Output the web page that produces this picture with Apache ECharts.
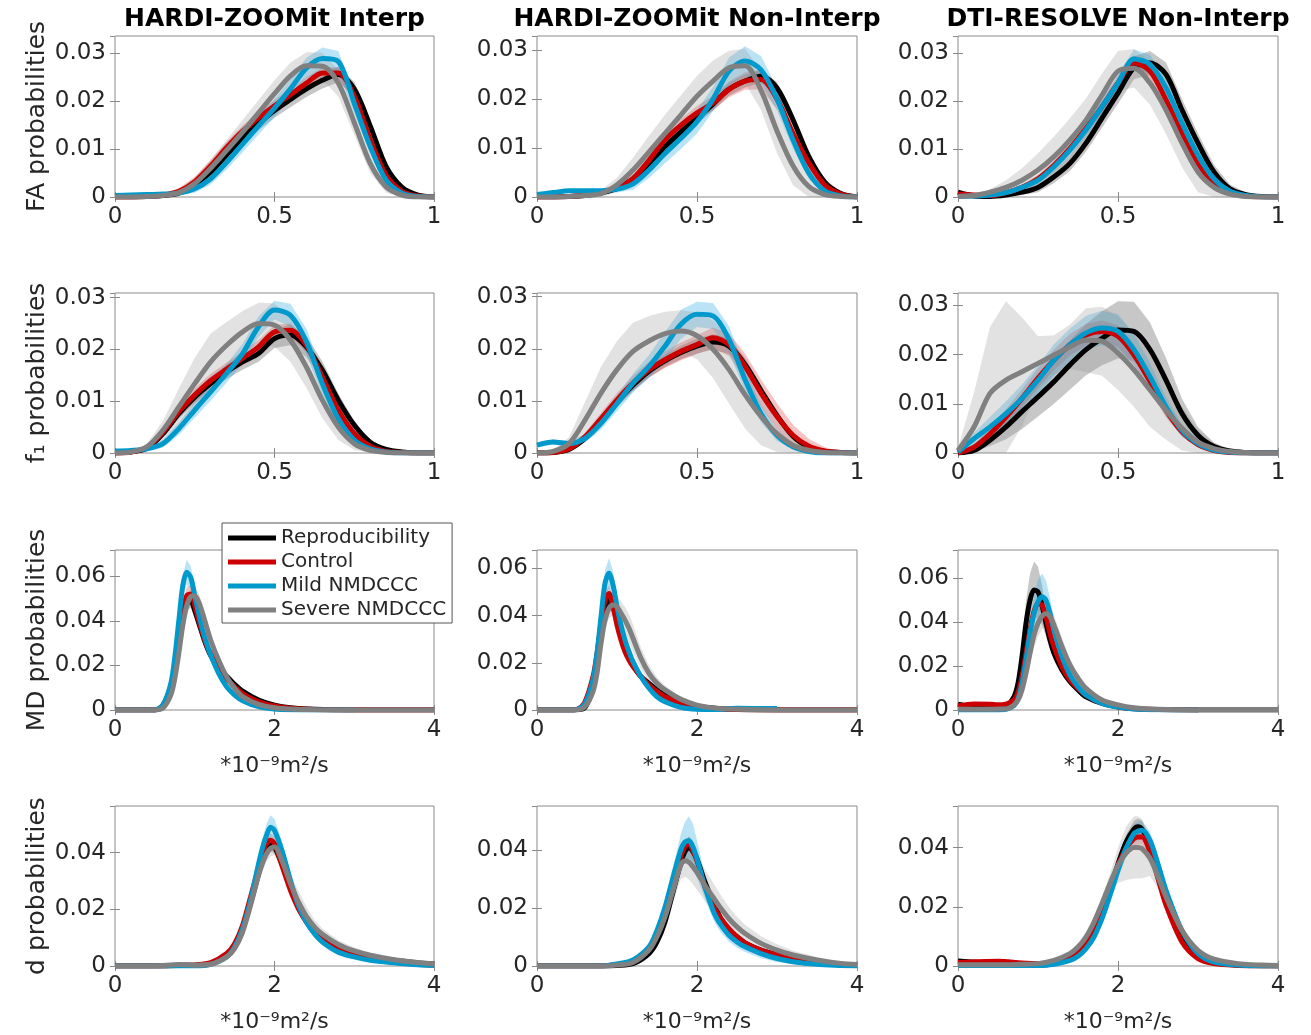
<!DOCTYPE html>
<html><head><meta charset="utf-8">
<script src="https://cdn.jsdelivr.net/npm/echarts@6/dist/echarts.min.js"></script>
<style>html,body{margin:0;padding:0;background:#fff}#chart{width:1311px;height:1035px}</style>
</head><body><div id="chart"></div>
<script>
// ---------- labels ----------
const colTitles = ['HARDI-ZOOMit Interp', 'HARDI-ZOOMit Non-Interp', 'DTI-RESOLVE Non-Interp'];
const rowLabels = ['FA probabilities', 'f\u2081 probabilities', 'MD probabilities', 'd probabilities'];
const groupNames = ['Reproducibility', 'Control', 'Mild NMDCCC', 'Severe NMDCCC'];
const xUnit = '*10\u207B\u2079m\u00B2/s';

// ---------- axis limits / ticks ----------
const xMaxRow = [1, 1, 4, 4];
const xIntRow = [0.5, 0.5, 2, 2];
const yIntRow = [0.01, 0.01, 0.02, 0.02];
const yMax = [[0.0335, 0.0329, 0.0335], [0.0309, 0.0307, 0.0325], [0.0718, 0.0678, 0.0726], [0.0565, 0.0552, 0.0541]];

// ---------- x samples ----------
const xFrac = [0,0.05,0.1,0.15,0.2,0.25,0.3,0.35,0.4,0.45,0.5,0.55,0.6,0.65,0.7,0.75,0.8,0.85,0.9,0.95,1];
const xMD = [0,0.2,0.4,0.5,0.6,0.7,0.75,0.8,0.85,0.9,0.95,1.0,1.05,1.1,1.15,1.2,1.3,1.4,1.5,1.6,1.8,2.0,2.2,2.5,3.0,3.5,4.0];
const xD = [0,0.5,0.8,1.0,1.2,1.4,1.5,1.6,1.7,1.8,1.85,1.9,1.95,2.0,2.1,2.2,2.25,2.3,2.4,2.5,2.6,2.8,3.0,3.2,3.5,3.8,4.0];

// ---------- FA, HARDI-ZOOMit Interp ----------
const faHI_R = [0,0,0.0001,0.0003,0.0008,0.0025,0.0052,0.0088,0.0123,0.0153,0.018,0.0203,0.0225,0.0243,0.0255,0.0225,0.0148,0.0063,0.002,0.0004,0];
const faHI_C = [0,0,0.0001,0.0004,0.0012,0.0032,0.0065,0.0103,0.0137,0.0165,0.019,0.0213,0.0237,0.0258,0.0258,0.021,0.012,0.0045,0.0012,0.0002,0];
const faHI_M = [0.0003,0.0004,0.0005,0.0006,0.0008,0.0017,0.0038,0.0072,0.011,0.0148,0.0185,0.0225,0.0268,0.0288,0.0282,0.0195,0.0105,0.0035,0.0008,0.0001,0];
const faHI_S = [0,0,0.0001,0.0003,0.0009,0.0028,0.006,0.0097,0.0135,0.0175,0.0215,0.0252,0.0273,0.0272,0.0237,0.0155,0.007,0.0021,0.0004,0,0];
const faHI_Rsd = [0,0,0,0.0002,0.0004,0.0008,0.001,0.0012,0.0013,0.0014,0.0015,0.0016,0.0017,0.0017,0.0016,0.0015,0.0012,0.0007,0.0003,0.0001,0];
const faHI_Csd = [0,0,0,0.0003,0.0006,0.001,0.0012,0.0012,0.0012,0.0012,0.0012,0.0012,0.0012,0.0012,0.0012,0.0011,0.0009,0.0006,0.0003,0.0001,0];
const faHI_Msd = [0,0,0,0.0002,0.0004,0.0008,0.0012,0.0015,0.0017,0.0018,0.0019,0.002,0.0022,0.0023,0.0022,0.002,0.0015,0.0009,0.0004,0.0001,0];
const faHI_Ssd = [0,0,0,0.0002,0.0006,0.0012,0.0018,0.0022,0.0025,0.0027,0.0028,0.0028,0.0028,0.0028,0.0028,0.0026,0.002,0.0012,0.0005,0.0001,0];

// ---------- FA, HARDI-ZOOMit Non-Interp ----------
const faHN_R = [0,0,0.0001,0.0003,0.0008,0.0017,0.003,0.0065,0.0103,0.0133,0.0161,0.019,0.022,0.0237,0.0247,0.0223,0.0158,0.0082,0.003,0.0007,0];
const faHN_C = [0,0,0.0001,0.0004,0.001,0.002,0.0038,0.0075,0.0117,0.0147,0.0172,0.0192,0.022,0.0237,0.024,0.02,0.013,0.0069,0.0024,0.0006,0];
const faHN_M = [0.0005,0.0009,0.0013,0.0013,0.0013,0.0016,0.0027,0.0055,0.0089,0.012,0.0154,0.02,0.0257,0.0278,0.026,0.02,0.0117,0.0048,0.0012,0.0002,0];
const faHN_S = [0,0,0.0001,0.0003,0.0007,0.0025,0.0055,0.0092,0.013,0.0168,0.0206,0.0237,0.0264,0.0268,0.0218,0.0135,0.0064,0.0021,0.0005,0.0001,0];
const faHN_Rsd = [0,0,0,0.0002,0.0003,0.0005,0.0007,0.0009,0.001,0.0011,0.0012,0.0013,0.0013,0.0013,0.0013,0.0012,0.001,0.0007,0.0004,0.0001,0];
const faHN_Csd = [0,0,0,0.0002,0.0004,0.0006,0.0009,0.0011,0.0012,0.0013,0.0014,0.0015,0.0016,0.0018,0.002,0.002,0.002,0.0018,0.0012,0.0005,0.0001];
const faHN_Msd = [0.0002,0.0003,0.0003,0.0003,0.0004,0.0007,0.0012,0.0016,0.002,0.0022,0.0024,0.0025,0.0028,0.003,0.0028,0.0024,0.0018,0.0011,0.0005,0.0001,0];
const faHN_Ssd = [0,0,0,0.0003,0.0007,0.0015,0.0025,0.0033,0.0038,0.004,0.0042,0.0042,0.0035,0.0035,0.004,0.0045,0.004,0.0025,0.0012,0.0004,0];

// ---------- FA, DTI-RESOLVE Non-Interp ----------
const faDN_R = [0.001,0.0002,0.0001,0.0004,0.001,0.002,0.0042,0.007,0.0112,0.0164,0.0216,0.0269,0.0279,0.0255,0.0181,0.0112,0.0052,0.0017,0.0005,0.0001,0];
const faDN_C = [0.0006,0.0004,0.0003,0.0009,0.002,0.0038,0.0066,0.0101,0.0143,0.0188,0.0237,0.0279,0.0262,0.0202,0.0133,0.007,0.0028,0.0009,0.0002,0,0];
const faDN_M = [0.0001,0.0002,0.0004,0.0009,0.002,0.0035,0.0063,0.0098,0.014,0.0188,0.0237,0.0287,0.0276,0.0227,0.0154,0.0087,0.0038,0.0012,0.0003,0,0];
const faDN_S = [0.0001,0.0003,0.001,0.002,0.0035,0.0056,0.0084,0.0119,0.016,0.0212,0.0262,0.0268,0.0237,0.0181,0.0112,0.0052,0.002,0.0006,0.0001,0,0];
const faDN_Rsd = [0.0003,0.0001,0.0001,0.0003,0.0006,0.001,0.0013,0.0016,0.0018,0.002,0.0022,0.0024,0.0025,0.0025,0.0023,0.002,0.0015,0.0009,0.0004,0.0001,0];
const faDN_Csd = [0.0002,0.0002,0.0002,0.0004,0.0006,0.0008,0.001,0.0012,0.0013,0.0014,0.0015,0.0016,0.0016,0.0015,0.0013,0.0011,0.0008,0.0005,0.0002,0,0];
const faDN_Msd = [0.0001,0.0001,0.0002,0.0004,0.0006,0.0008,0.001,0.0012,0.0014,0.0016,0.0018,0.002,0.002,0.0018,0.0015,0.0012,0.0008,0.0005,0.0002,0,0];
const faDN_Ssd = [0.0001,0.0002,0.0006,0.0015,0.0025,0.0035,0.0042,0.0045,0.0045,0.0045,0.0042,0.004,0.0045,0.005,0.005,0.0042,0.003,0.0015,0.0006,0.0001,0];

// ---------- f1, HARDI-ZOOMit Interp ----------
const f1HI_R = [0,0.0002,0.0009,0.0037,0.0076,0.0108,0.0134,0.0157,0.0176,0.0192,0.0221,0.0228,0.0205,0.016,0.0102,0.0054,0.0021,0.0007,0.0002,0,0];
const f1HI_C = [0,0.0002,0.0011,0.004,0.008,0.0112,0.014,0.0162,0.0183,0.0205,0.0234,0.0237,0.0208,0.0147,0.0083,0.0038,0.0013,0.0003,0.0001,0,0];
const f1HI_M = [0.0004,0.0005,0.0008,0.0018,0.0047,0.0083,0.0118,0.0154,0.0192,0.0244,0.0276,0.0266,0.0215,0.0134,0.0066,0.0025,0.0008,0.0002,0,0,0];
const f1HI_S = [0,0.0002,0.0012,0.0044,0.0089,0.0134,0.0176,0.0208,0.0234,0.025,0.0247,0.0218,0.0166,0.0102,0.005,0.0018,0.0005,0.0001,0,0,0];
const f1HI_Rsd = [0,0.0001,0.0003,0.0007,0.001,0.0012,0.0013,0.0014,0.0015,0.0016,0.0018,0.002,0.002,0.0017,0.0013,0.0008,0.0004,0.0002,0.0001,0,0];
const f1HI_Csd = [0,0.0001,0.0004,0.0009,0.0012,0.0013,0.0013,0.0013,0.0013,0.0013,0.0013,0.0013,0.0013,0.0012,0.0009,0.0006,0.0003,0.0001,0,0,0];
const f1HI_Msd = [0.0001,0.0002,0.0004,0.0008,0.0012,0.0015,0.0017,0.0018,0.0019,0.002,0.0018,0.0022,0.0025,0.0022,0.0015,0.0008,0.0003,0.0001,0,0,0];
const f1HI_Ssd = [0,0.0001,0.0006,0.0018,0.0035,0.005,0.0055,0.0045,0.004,0.004,0.0042,0.0042,0.004,0.0035,0.0025,0.0012,0.0004,0.0001,0,0,0];

// ---------- f1, HARDI-ZOOMit Non-Interp ----------
const f1HN_R = [0,0.0001,0.0007,0.0028,0.0062,0.0098,0.013,0.0157,0.0177,0.0193,0.0205,0.0213,0.0205,0.017,0.012,0.0072,0.0032,0.0011,0.0003,0.0001,0];
const f1HN_C = [0,0.0001,0.0008,0.0031,0.0066,0.0102,0.0134,0.016,0.0179,0.0195,0.0208,0.0221,0.0208,0.0166,0.0115,0.007,0.0034,0.0013,0.0004,0.0001,0];
const f1HN_M = [0.0015,0.0021,0.0018,0.0028,0.0057,0.0095,0.0134,0.0166,0.0205,0.0247,0.0266,0.0263,0.0218,0.0141,0.0076,0.0034,0.0012,0.0003,0,0,0];
const f1HN_S = [0,0.0003,0.0018,0.0063,0.0115,0.016,0.0195,0.0215,0.0229,0.0234,0.0225,0.0199,0.016,0.0112,0.007,0.0037,0.0015,0.0005,0.0001,0,0];
const f1HN_Rsd = [0,0.0001,0.0003,0.0006,0.0008,0.001,0.0011,0.0012,0.0012,0.0013,0.0014,0.0015,0.0015,0.0013,0.001,0.0007,0.0004,0.0002,0.0001,0,0];
const f1HN_Csd = [0,0.0001,0.0004,0.0008,0.0011,0.0013,0.0014,0.0015,0.0016,0.0017,0.0018,0.002,0.0022,0.0025,0.0026,0.0025,0.002,0.0014,0.0007,0.0002,0];
const f1HN_Msd = [0.0004,0.0005,0.0005,0.0008,0.0012,0.0015,0.0018,0.0022,0.0027,0.0028,0.0024,0.0025,0.0025,0.0022,0.0017,0.0011,0.0006,0.0002,0,0,0];
const f1HN_Ssd = [0,0.0002,0.0012,0.0035,0.005,0.0055,0.0055,0.0048,0.0042,0.004,0.0045,0.0055,0.0065,0.0065,0.0055,0.0035,0.0015,0.0005,0.0001,0,0];

// ---------- f1, DTI-RESOLVE Non-Interp ----------
const f1DN_R = [0,0.0005,0.0026,0.0053,0.0084,0.0114,0.0145,0.0179,0.021,0.0233,0.025,0.0247,0.021,0.0148,0.008,0.0036,0.0013,0.0004,0.0001,0,0];
const f1DN_C = [0,0.0012,0.0039,0.0073,0.0111,0.0152,0.0189,0.022,0.024,0.0247,0.0237,0.0199,0.0145,0.0087,0.0043,0.0017,0.0005,0.0001,0,0,0];
const f1DN_M = [0.0002,0.0029,0.0053,0.008,0.0111,0.0148,0.0189,0.022,0.0244,0.0254,0.0247,0.021,0.0155,0.0094,0.0046,0.0019,0.0006,0.0002,0,0,0];
const f1DN_S = [0.0005,0.0053,0.0121,0.0148,0.0165,0.0182,0.0199,0.0216,0.0229,0.0227,0.0203,0.0169,0.0128,0.0087,0.005,0.0022,0.0009,0.0003,0.0001,0,0];
const f1DN_Rsd = [0,0.0003,0.0012,0.0025,0.0035,0.004,0.0045,0.005,0.0052,0.0055,0.0058,0.006,0.0055,0.0045,0.003,0.0017,0.0008,0.0003,0.0001,0,0];
const f1DN_Csd = [0,0.0005,0.0012,0.0016,0.0018,0.002,0.0021,0.0022,0.0022,0.0022,0.0022,0.0021,0.0019,0.0015,0.001,0.0006,0.0003,0.0001,0,0,0];
const f1DN_Msd = [0.0002,0.0012,0.002,0.0025,0.0028,0.003,0.0032,0.0033,0.0035,0.0035,0.0035,0.0032,0.0028,0.002,0.0013,0.0007,0.0003,0.0001,0,0,0];
const f1DN_Ssd = [0.0005,0.007,0.0135,0.016,0.011,0.0055,0.004,0.0045,0.0065,0.007,0.0075,0.0075,0.0075,0.006,0.0045,0.0025,0.0012,0.0004,0.0001,0,0];

// ---------- MD, HARDI-ZOOMit Interp ----------
const mdHI_R = [0,0,0,0,0.0015,0.009,0.017,0.028,0.04,0.0476,0.049,0.0446,0.039,0.0335,0.0285,0.0245,0.019,0.0152,0.0115,0.0085,0.0045,0.0022,0.001,0.0003,0,0,0];
const mdHI_C = [0,0,0,0,0.0022,0.0104,0.0193,0.0313,0.0446,0.0513,0.052,0.0469,0.0402,0.0342,0.029,0.0253,0.0186,0.0141,0.0104,0.0074,0.0037,0.0018,0.0008,0.0002,0,0,0];
const mdHI_M = [0,0,0,0,0.0022,0.012,0.0238,0.04,0.0558,0.0618,0.0595,0.0513,0.0432,0.0357,0.0298,0.0246,0.0164,0.0104,0.0067,0.0042,0.0015,0.0004,0.0001,0,0,null,null];
const mdHI_S = [0,0,0,0,0.0008,0.0067,0.0141,0.0253,0.038,0.0469,0.0509,0.0513,0.0484,0.0432,0.0372,0.0313,0.0223,0.0149,0.0097,0.006,0.0025,0.001,0.0004,0.0001,0,0,0];
const mdHI_Rsd = [0,0,0,0,0.0005,0.0015,0.002,0.0025,0.003,0.003,0.003,0.0025,0.002,0.0015,0.0013,0.0012,0.001,0.0008,0.0007,0.0006,0.0004,0.0002,0.0001,0,0,0,0];
const mdHI_Csd = [0,0,0,0,0.0008,0.002,0.0025,0.003,0.0035,0.004,0.004,0.0035,0.003,0.0022,0.0018,0.0015,0.0012,0.001,0.0008,0.0006,0.0004,0.0002,0.0001,0,0,0,0];
const mdHI_Msd = [0,0,0,0,0.0008,0.002,0.003,0.004,0.005,0.0055,0.005,0.004,0.003,0.0025,0.002,0.0016,0.0012,0.0009,0.0007,0.0005,0.0003,0.0001,0,0,0,null,null];
const mdHI_Ssd = [0,0,0,0,0.0005,0.0015,0.0022,0.003,0.0035,0.0038,0.004,0.004,0.004,0.0038,0.0035,0.003,0.0025,0.0018,0.0012,0.0008,0.0004,0.0002,0.0001,0,0,0,0];

// ---------- MD, HARDI-ZOOMit Non-Interp ----------
const mdHN_R = [0,0,0,0.0001,0.0011,0.0092,0.0184,0.031,0.0424,0.0469,0.0438,0.0381,0.0318,0.0268,0.0226,0.0191,0.0141,0.0113,0.0085,0.0064,0.0035,0.0017,0.0008,0.0002,0,0,0];
const mdHN_C = [0,0,0,0.0003,0.0035,0.0141,0.024,0.0367,0.0466,0.0494,0.0438,0.036,0.0297,0.0247,0.0212,0.0184,0.0141,0.0106,0.0078,0.0056,0.0028,0.0014,0.0006,0.0002,0,0,0];
const mdHN_M = [0,0,0,0.0003,0.0028,0.0127,0.024,0.0395,0.0537,0.0579,0.053,0.0438,0.036,0.0297,0.0247,0.0205,0.0141,0.0092,0.0056,0.0035,0.0011,0.0003,0.0002,0.0007,0.0006,null,null];
const mdHN_S = [0,0,0,0.0001,0.0014,0.0078,0.0155,0.0282,0.0381,0.0431,0.0445,0.0438,0.041,0.0381,0.0346,0.0304,0.0219,0.0155,0.0113,0.0085,0.0045,0.0021,0.0009,0.0003,0,0,0];
const mdHN_Rsd = [0,0,0,0,0.0005,0.0015,0.002,0.0025,0.003,0.003,0.0028,0.0025,0.002,0.0017,0.0015,0.0012,0.001,0.0008,0.0007,0.0006,0.0004,0.0002,0.0001,0,0,0,0];
const mdHN_Csd = [0,0,0,0,0.001,0.0022,0.0028,0.0032,0.0035,0.0035,0.003,0.0025,0.002,0.0017,0.0015,0.0013,0.001,0.0008,0.0006,0.0005,0.0003,0.0002,0.0001,0,0,0,0];
const mdHN_Msd = [0,0,0,0,0.0008,0.002,0.003,0.004,0.0055,0.0065,0.006,0.0045,0.0035,0.0028,0.0022,0.0018,0.0013,0.0009,0.0006,0.0004,0.0002,0.0001,0.0001,0.0002,0.0002,null,null];
const mdHN_Ssd = [0,0,0,0,0.0006,0.0018,0.0025,0.0035,0.004,0.0042,0.0045,0.0045,0.005,0.0055,0.006,0.0058,0.0045,0.0035,0.0025,0.0018,0.001,0.0005,0.0002,0.0001,0,0,0];

// ---------- MD, DTI-RESOLVE Non-Interp ----------
const mdDN_R = [0.0026,0.0012,0.0008,0.0008,0.0015,0.006,0.0121,0.0242,0.0393,0.0498,0.0544,0.0536,0.0476,0.0393,0.0317,0.0257,0.0181,0.0128,0.0091,0.006,0.003,0.0015,0.0007,0.0002,0,0,0];
const mdDN_C = [0.0018,0.0027,0.0026,0.0024,0.0027,0.0045,0.008,0.0151,0.0257,0.0363,0.0446,0.0483,0.0476,0.0423,0.0347,0.0287,0.0196,0.0136,0.0098,0.0068,0.0032,0.0014,0.0006,0.0002,0,null,null];
const mdDN_M = [0,0,0,0,0.0003,0.002,0.005,0.0121,0.0227,0.0347,0.0438,0.0491,0.0514,0.0498,0.0438,0.0363,0.0242,0.0159,0.0106,0.0068,0.003,0.0013,0.0005,0.0001,0,null,null];
const mdDN_S = [0.0005,0.0003,0.0003,0.0004,0.0005,0.0023,0.0045,0.0091,0.0166,0.0257,0.034,0.0393,0.0426,0.0438,0.0423,0.0385,0.0287,0.0204,0.0144,0.0098,0.0045,0.0023,0.001,0.0003,0,0,0];
const mdDN_Rsd = [0.0005,0.0003,0.0002,0.0002,0.0005,0.002,0.004,0.007,0.01,0.012,0.013,0.0115,0.009,0.006,0.004,0.003,0.002,0.0015,0.001,0.0008,0.0005,0.0003,0.0001,0,0,0,0];
const mdDN_Csd = [0.0003,0.0004,0.0004,0.0004,0.0005,0.001,0.0015,0.002,0.0025,0.003,0.003,0.003,0.003,0.0025,0.002,0.0015,0.0012,0.001,0.0008,0.0006,0.0004,0.0002,0.0001,0,0,null,null];
const mdDN_Msd = [0,0,0,0,0.0002,0.001,0.002,0.003,0.0045,0.006,0.008,0.01,0.0105,0.009,0.007,0.005,0.003,0.002,0.0015,0.001,0.0005,0.0003,0.0001,0,0,null,null];
const mdDN_Ssd = [0.0002,0.0002,0.0002,0.0002,0.0003,0.0012,0.002,0.003,0.004,0.005,0.0055,0.006,0.006,0.0055,0.005,0.0045,0.004,0.003,0.002,0.0015,0.0008,0.0004,0.0002,0.0001,0,0,0];

// ---------- d, HARDI-ZOOMit Interp ----------
const dHI_R = [0,0,0.0002,0.0003,0.0008,0.0035,0.0068,0.0128,0.0222,0.0325,0.0375,0.0414,0.043,0.042,0.0355,0.0279,0.0245,0.0214,0.0167,0.0132,0.0108,0.0073,0.0049,0.0035,0.002,0.0011,0.0007];
const dHI_C = [0,0,0.0002,0.0004,0.0012,0.0044,0.0079,0.0144,0.0244,0.0349,0.0398,0.0432,0.0444,0.0432,0.0349,0.0267,0.0233,0.0202,0.0155,0.012,0.0096,0.0061,0.004,0.0026,0.0013,0.0006,0.0003];
const dHI_M = [0,0,0,0,0.0006,0.0032,0.0067,0.0132,0.0232,0.0361,0.0418,0.0461,0.049,0.0479,0.0402,0.0302,0.0256,0.0214,0.0155,0.0114,0.0085,0.0049,0.0032,0.002,0.0011,0.0004,0.0002];
const dHI_S = [0,0,0.0005,0.0003,0.0006,0.0032,0.0061,0.012,0.0214,0.032,0.0363,0.0396,0.0415,0.042,0.0367,0.0291,0.0258,0.0226,0.0175,0.0138,0.0112,0.0076,0.0053,0.0038,0.0022,0.0012,0.0007];
const dHI_Rsd = [0,0,0.0001,0.0001,0.0003,0.0008,0.0012,0.0016,0.002,0.0022,0.0023,0.0024,0.0024,0.0024,0.0022,0.0018,0.0016,0.0014,0.0012,0.001,0.0008,0.0006,0.0004,0.0003,0.0002,0.0001,0.0001];
const dHI_Csd = [0,0,0.0001,0.0001,0.0004,0.001,0.0013,0.0016,0.002,0.0022,0.0023,0.0024,0.0025,0.0024,0.002,0.0016,0.0014,0.0012,0.001,0.0008,0.0007,0.0005,0.0004,0.0003,0.0002,0.0001,0.0001];
const dHI_Msd = [0,0,0,0,0.0002,0.0008,0.0012,0.0016,0.0022,0.003,0.0035,0.004,0.0042,0.004,0.0032,0.0025,0.0022,0.002,0.0016,0.0013,0.001,0.0008,0.0006,0.0004,0.0002,0.0001,0];
const dHI_Ssd = [0,0,0.0003,0.0002,0.0004,0.001,0.0014,0.0018,0.0022,0.0025,0.0026,0.0028,0.0028,0.0028,0.0028,0.003,0.0035,0.004,0.0035,0.0025,0.002,0.0015,0.0012,0.001,0.0008,0.0005,0.0003];

// ---------- d, HARDI-ZOOMit Non-Interp ----------
const dHN_R = [0,0,0,0.0002,0.0008,0.0043,0.0083,0.0152,0.0255,0.0358,0.0395,0.0409,0.0395,0.0369,0.0289,0.0221,0.019,0.0163,0.0123,0.0101,0.008,0.0055,0.004,0.0027,0.0014,0.0006,0.0003];
const dHN_C = [0,0,0,0.0005,0.0018,0.006,0.0115,0.0192,0.0295,0.038,0.0412,0.042,0.0398,0.0363,0.0272,0.0209,0.0185,0.0163,0.0129,0.0101,0.008,0.0055,0.0038,0.0024,0.0012,0.0005,0.0002];
const dHN_M = [0,0,0,0.0007,0.0021,0.0066,0.0123,0.0203,0.0306,0.0403,0.0428,0.0432,0.041,0.0369,0.0272,0.0192,0.0163,0.0141,0.0106,0.0083,0.0066,0.0043,0.0026,0.0015,0.0006,0.0002,0];
const dHN_S = [0,0,0,0.0003,0.0012,0.0055,0.0101,0.0169,0.0261,0.035,0.0363,0.0358,0.0342,0.0323,0.0278,0.0238,0.0218,0.0198,0.0163,0.0135,0.0112,0.0078,0.0055,0.0038,0.0021,0.0009,0.0005];
const dHN_Rsd = [0,0,0,0.0001,0.0003,0.0008,0.0012,0.0018,0.0025,0.0032,0.0035,0.0038,0.0035,0.0032,0.0025,0.0018,0.0015,0.0013,0.001,0.0008,0.0007,0.0005,0.0004,0.0003,0.0002,0.0001,0.0001];
const dHN_Csd = [0,0,0,0.0002,0.0005,0.0012,0.0016,0.002,0.0022,0.0024,0.0025,0.0025,0.0025,0.0024,0.002,0.0016,0.0014,0.0012,0.001,0.0008,0.0007,0.0005,0.0004,0.0003,0.0002,0.0001,0.0001];
const dHN_Msd = [0,0,0,0.0002,0.0005,0.0012,0.0018,0.0025,0.0035,0.0055,0.007,0.0085,0.008,0.0065,0.004,0.003,0.0027,0.0025,0.0022,0.002,0.0018,0.0015,0.0012,0.0008,0.0004,0.0002,0];
const dHN_Ssd = [0,0,0,0.0002,0.0005,0.0012,0.002,0.003,0.004,0.005,0.0055,0.006,0.006,0.006,0.0055,0.005,0.0048,0.0045,0.004,0.0035,0.003,0.0025,0.002,0.0015,0.001,0.0005,0.0003];

// ---------- d, DTI-RESOLVE Non-Interp ----------
const dDN_R = [0.0017,0.0008,0.0005,0.0003,0.0008,0.003,0.0047,0.0075,0.012,0.0182,0.022,0.0261,0.0303,0.0345,0.0418,0.0463,0.0471,0.0463,0.0413,0.0323,0.0234,0.0104,0.0036,0.0013,0.0003,0.0001,0];
const dDN_C = [0.0012,0.0016,0.001,0.0008,0.001,0.003,0.0047,0.0077,0.0125,0.0189,0.0228,0.0267,0.0304,0.0341,0.0397,0.0431,0.0436,0.0436,0.0386,0.0296,0.0206,0.0081,0.0025,0.0008,0.0002,0,0];
const dDN_M = [0.0002,0.0002,0.0002,0.0002,0.0006,0.0019,0.0033,0.0059,0.0098,0.016,0.0198,0.0239,0.0281,0.0324,0.0397,0.0448,0.0456,0.0459,0.0425,0.0345,0.0256,0.012,0.0042,0.0013,0.0003,0,0];
const dDN_S = [0.0004,0.0004,0.0006,0.0008,0.0019,0.0042,0.0064,0.0098,0.0148,0.0211,0.0245,0.0279,0.0311,0.0341,0.0381,0.0401,0.0401,0.0397,0.0364,0.0302,0.0234,0.012,0.0053,0.0023,0.0008,0.0003,0.0002];
const dDN_Rsd = [0.0005,0.0003,0.0002,0.0001,0.0002,0.0006,0.0008,0.001,0.0013,0.0016,0.0018,0.002,0.0022,0.0024,0.0026,0.0028,0.0028,0.0028,0.0025,0.002,0.0016,0.001,0.0005,0.0002,0.0001,0,0];
const dDN_Csd = [0.0003,0.0004,0.0003,0.0002,0.0003,0.0006,0.0008,0.001,0.0013,0.0015,0.0017,0.0018,0.002,0.0022,0.0024,0.0025,0.0025,0.0025,0.0022,0.0018,0.0015,0.001,0.0005,0.0002,0.0001,0,0];
const dDN_Msd = [0.0001,0.0001,0.0001,0.0001,0.0002,0.0005,0.0008,0.001,0.0014,0.0018,0.002,0.0022,0.0025,0.0028,0.003,0.0032,0.0032,0.0032,0.003,0.0025,0.002,0.0012,0.0006,0.0002,0.0001,0,0];
const dDN_Ssd = [0.0001,0.0001,0.0002,0.0003,0.0006,0.001,0.0014,0.0018,0.0022,0.0025,0.0028,0.0032,0.0045,0.006,0.009,0.0105,0.0105,0.01,0.006,0.004,0.003,0.0015,0.0008,0.0004,0.0002,0.0001,0];

// ---------- assemble ----------
const panels = [
  {xs: xFrac, m: [faHI_R, faHI_C, faHI_M, faHI_S], sd: [faHI_Rsd, faHI_Csd, faHI_Msd, faHI_Ssd]},
  {xs: xFrac, m: [faHN_R, faHN_C, faHN_M, faHN_S], sd: [faHN_Rsd, faHN_Csd, faHN_Msd, faHN_Ssd]},
  {xs: xFrac, m: [faDN_R, faDN_C, faDN_M, faDN_S], sd: [faDN_Rsd, faDN_Csd, faDN_Msd, faDN_Ssd]},
  {xs: xFrac, m: [f1HI_R, f1HI_C, f1HI_M, f1HI_S], sd: [f1HI_Rsd, f1HI_Csd, f1HI_Msd, f1HI_Ssd]},
  {xs: xFrac, m: [f1HN_R, f1HN_C, f1HN_M, f1HN_S], sd: [f1HN_Rsd, f1HN_Csd, f1HN_Msd, f1HN_Ssd]},
  {xs: xFrac, m: [f1DN_R, f1DN_C, f1DN_M, f1DN_S], sd: [f1DN_Rsd, f1DN_Csd, f1DN_Msd, f1DN_Ssd]},
  {xs: xMD, m: [mdHI_R, mdHI_C, mdHI_M, mdHI_S], sd: [mdHI_Rsd, mdHI_Csd, mdHI_Msd, mdHI_Ssd]},
  {xs: xMD, m: [mdHN_R, mdHN_C, mdHN_M, mdHN_S], sd: [mdHN_Rsd, mdHN_Csd, mdHN_Msd, mdHN_Ssd]},
  {xs: xMD, m: [mdDN_R, mdDN_C, mdDN_M, mdDN_S], sd: [mdDN_Rsd, mdDN_Csd, mdDN_Msd, mdDN_Ssd]},
  {xs: xD, m: [dHI_R, dHI_C, dHI_M, dHI_S], sd: [dHI_Rsd, dHI_Csd, dHI_Msd, dHI_Ssd]},
  {xs: xD, m: [dHN_R, dHN_C, dHN_M, dHN_S], sd: [dHN_Rsd, dHN_Csd, dHN_Msd, dHN_Ssd]},
  {xs: xD, m: [dDN_R, dDN_C, dDN_M, dDN_S], sd: [dDN_Rsd, dDN_Csd, dDN_Msd, dDN_Ssd]}
];

const FONT = 'DejaVu Sans';
const lineColors = ['#000000', '#cc0000', '#0099cc', '#808080'];
const bandColors = ['rgba(0,0,0,0.22)', 'rgba(220,40,40,0.28)', 'rgba(40,170,225,0.32)', 'rgba(150,150,150,0.28)'];
const gridLeft = [115, 537, 958], gridWidth = [319, 320, 320];
const gridTop = [36, 293, 550, 806], gridHeight = [161, 160, 160, 160];
const BOX = '#8a8a8a';

const grids = [], xAxes = [], yAxes = [], series = [], titles = [];

function bandSeries(xs, mean, sd, color, xi, yi, ymax) {
  const pts = [];
  const n = Math.min(xs.length, mean.length, sd.length);
  for (let k = 0; k < n; k++) if (mean[k] != null && sd[k] != null) pts.push([xs[k], mean[k], sd[k]]);
  return {
    type: 'custom', xAxisIndex: xi, yAxisIndex: yi, silent: true, z: 1, animation: false,
    data: pts, encode: {x: 0, y: 1},
    renderItem: function (params, api) {
      if (params.dataIndex !== 0) return null;
      const up = pts.map(d => api.coord([d[0], Math.min(ymax, d[1] + d[2])]));
      const lo = pts.slice().reverse().map(d => api.coord([d[0], Math.max(0, d[1] - d[2])]));
      return {type: 'polygon', shape: {points: up.concat(lo)}, style: {fill: color}};
    }
  };
}

for (let r = 0; r < 4; r++) {
  for (let c = 0; c < 3; c++) {
    const i = r * 3 + c;
    const p = panels[i];
    const ymax = yMax[r][c];
    grids.push({left: gridLeft[c], top: gridTop[r], width: gridWidth[c], height: gridHeight[r],
      show: true, borderColor: BOX, borderWidth: 1, backgroundColor: 'transparent'});
    const tick = {show: true, inside: true, length: 5, lineStyle: {color: BOX, width: 1}};
    const lab = {color: '#262626', fontSize: 23, fontFamily: FONT, margin: 9};
    xAxes.push({gridIndex: i, type: 'value', position: 'bottom', min: 0, max: xMaxRow[r], interval: xIntRow[r],
      axisLine: {show: false}, axisTick: tick, splitLine: {show: false},
      axisLabel: Object.assign({showMinLabel: true, showMaxLabel: true}, lab),
      name: r >= 2 ? xUnit : '', nameLocation: 'middle', nameGap: 45,
      nameTextStyle: {color: '#262626', fontSize: 22, fontFamily: FONT}});
    xAxes.push({gridIndex: i, type: 'value', position: 'top', min: 0, max: xMaxRow[r], interval: xIntRow[r],
      axisLine: {show: false}, axisTick: tick, splitLine: {show: false}, axisLabel: {show: false}});
    yAxes.push({gridIndex: i, type: 'value', position: 'left', min: 0, max: ymax, interval: yIntRow[r],
      axisLine: {show: false}, axisTick: tick, splitLine: {show: false},
      axisLabel: Object.assign({showMinLabel: true, showMaxLabel: false}, lab),
      name: c === 0 ? rowLabels[r] : '', nameLocation: 'middle', nameRotate: 90, nameGap: 65,
      nameTextStyle: {color: '#262626', fontSize: 25, fontFamily: FONT}});
    yAxes.push({gridIndex: i, type: 'value', position: 'right', min: 0, max: ymax, interval: yIntRow[r],
      axisLine: {show: false}, axisTick: tick, splitLine: {show: false}, axisLabel: {show: false}});
    const xi = 2 * i, yi = 2 * i;
    for (let s = 0; s < 4; s++) series.push(bandSeries(p.xs, p.m[s], p.sd[s], bandColors[s], xi, yi, ymax));
    for (let s = 0; s < 4; s++) {
      const n = Math.min(p.xs.length, p.m[s].length);
      const data = [];
      for (let k = 0; k < n; k++) data.push([p.xs[k], p.m[s][k]]);
      series.push({type: 'line', name: groupNames[s], xAxisIndex: xi, yAxisIndex: yi,
        data: data, showSymbol: false, symbol: 'none', smooth: 0.3, silent: true, animation: false,
        lineStyle: {width: 5, color: lineColors[s]}, itemStyle: {color: lineColors[s]}, z: 3 + s});
    }
  }
}

for (let c = 0; c < 3; c++) {
  titles.push({text: colTitles[c], left: gridLeft[c] + gridWidth[c] / 2, top: 7, textAlign: 'center', padding: 0,
    textStyle: {fontSize: 25, fontWeight: 'bold', color: '#000', fontFamily: FONT}});
}

const option = {
  backgroundColor: '#ffffff',
  animation: false,
  title: titles,
  grid: grids,
  xAxis: xAxes,
  yAxis: yAxes,
  legend: {data: groupNames, orient: 'vertical', left: 222, top: 523, padding: [5, 6, 3, 6],
    itemWidth: 48, itemHeight: 5, itemGap: 4, icon: 'rect', selectedMode: false,
    backgroundColor: '#ffffff', borderColor: '#555555', borderWidth: 1, z: 10,
    textStyle: {fontSize: 20, lineHeight: 20, color: '#262626', fontFamily: FONT}},
  series: series
};

const chart = echarts.init(document.getElementById('chart'), null, {renderer: 'canvas'});
chart.setOption(option);
</script></body></html>
